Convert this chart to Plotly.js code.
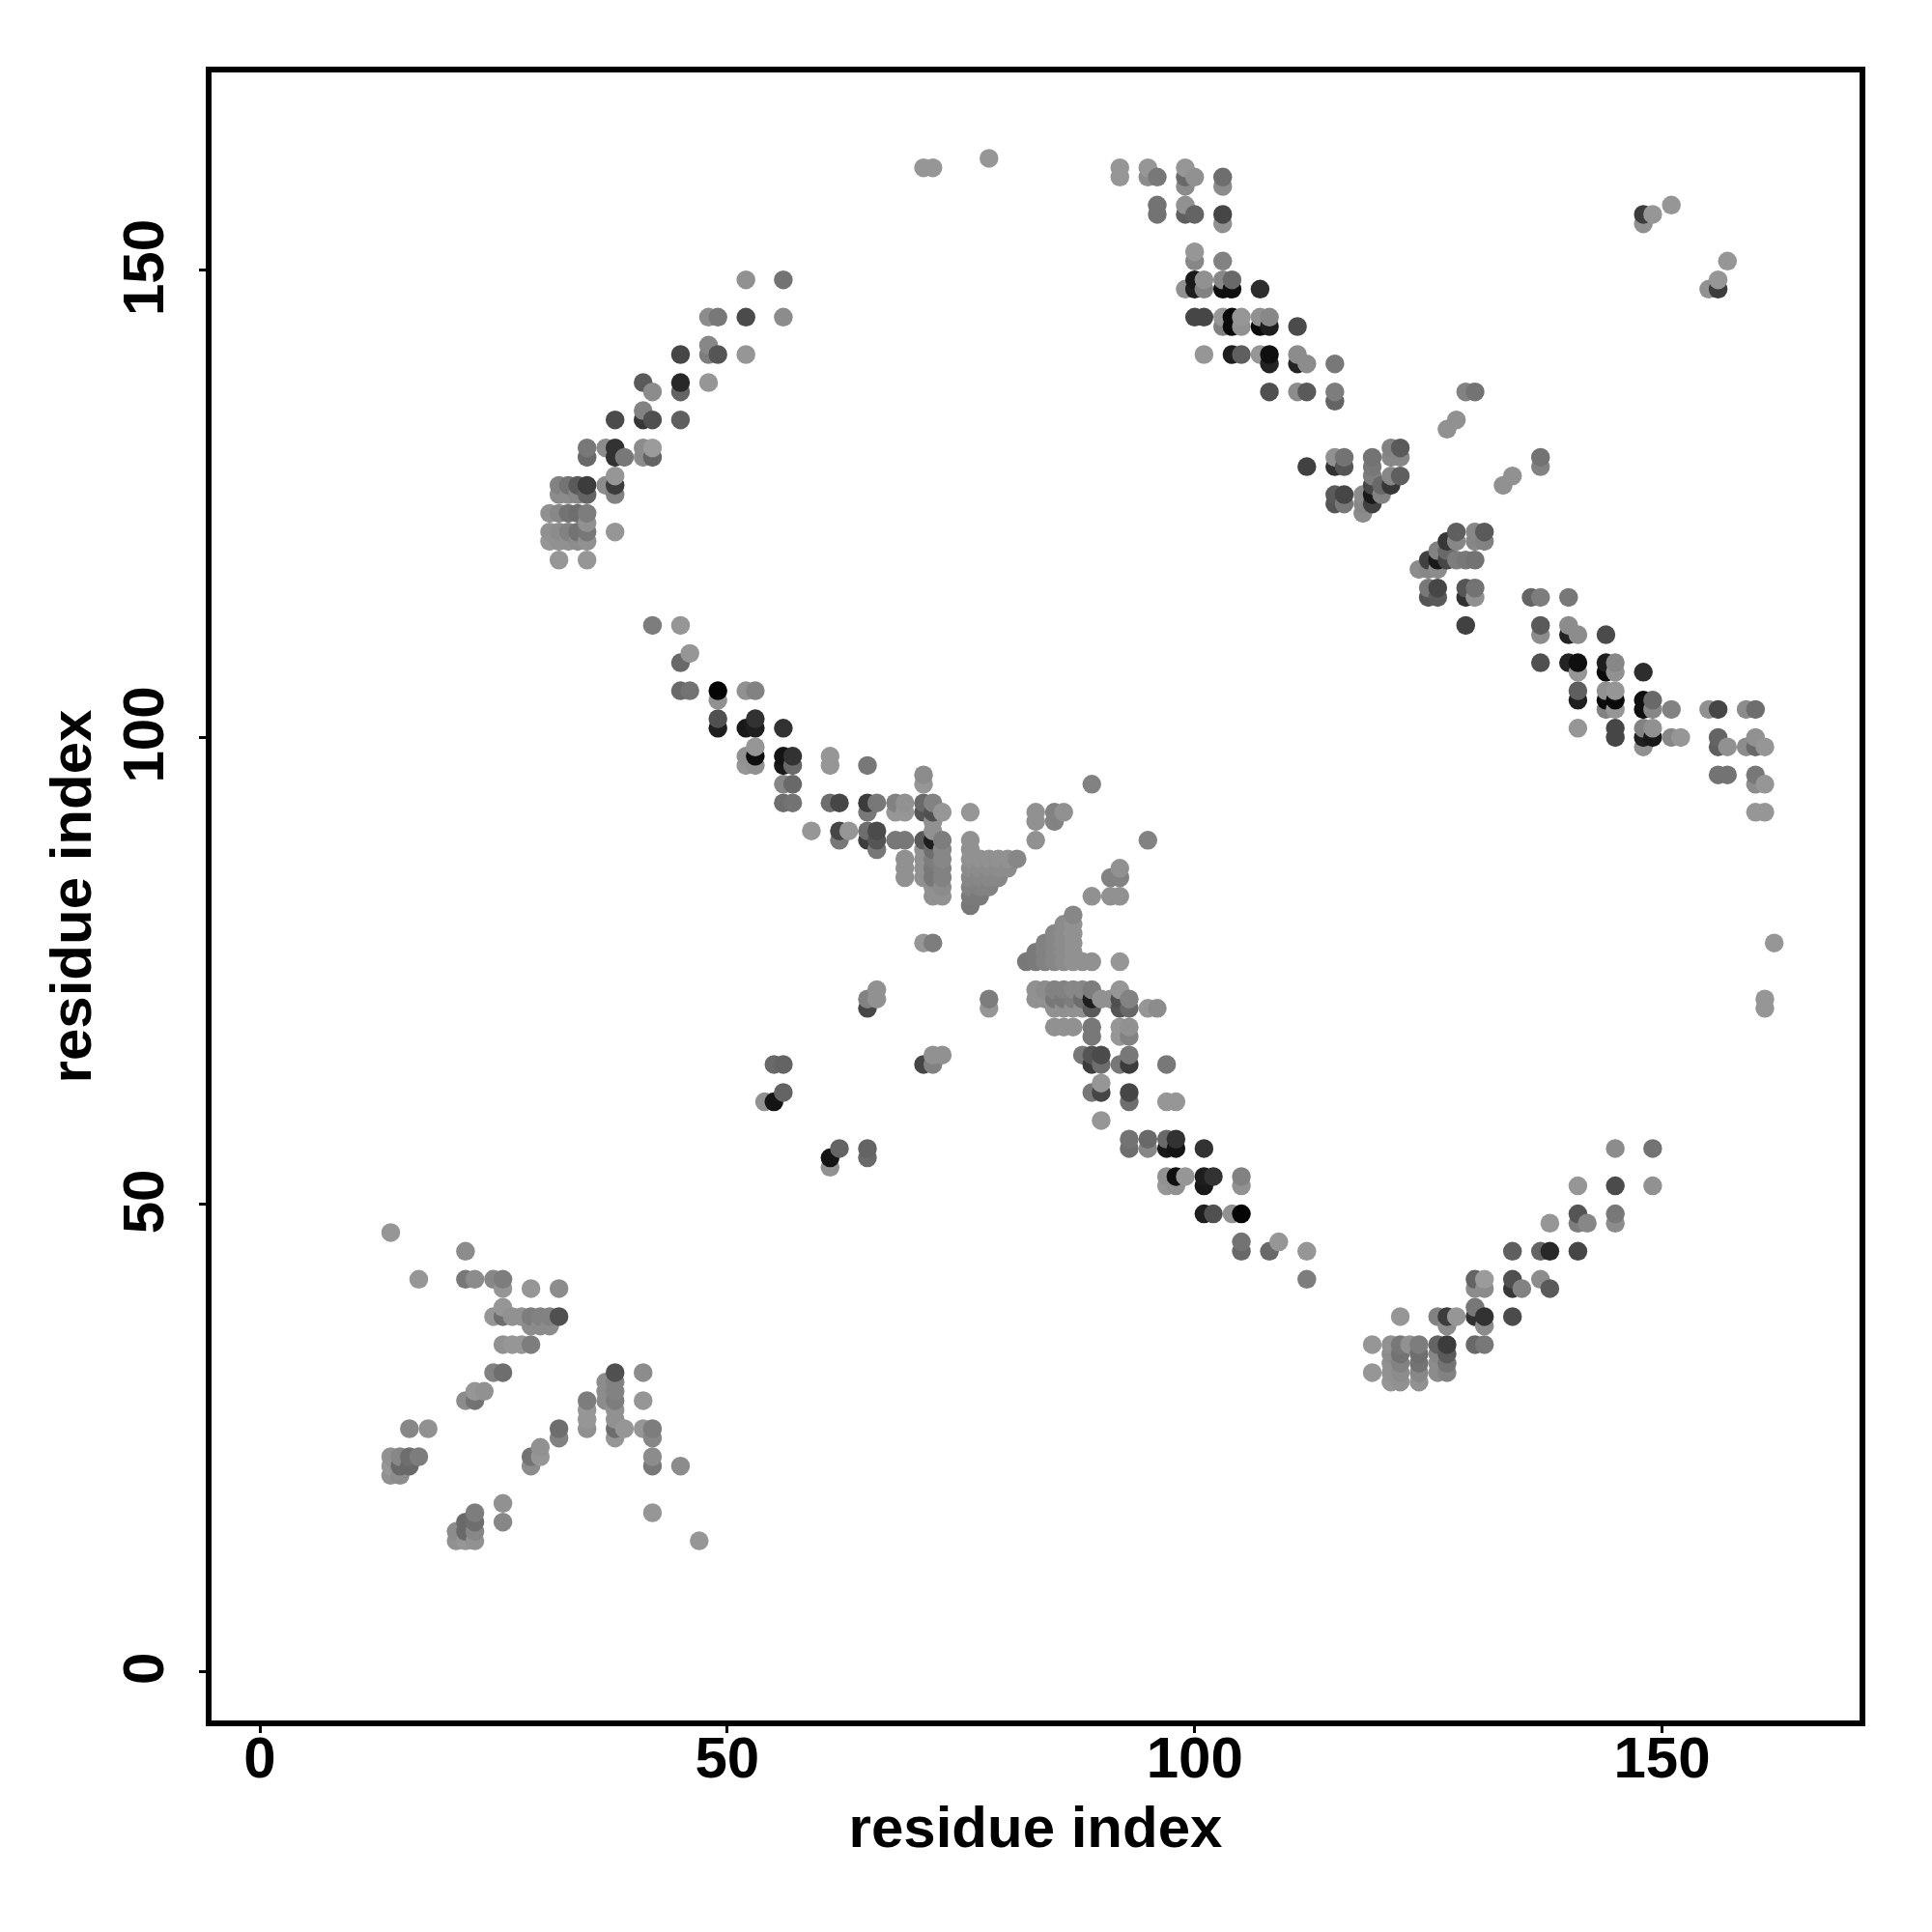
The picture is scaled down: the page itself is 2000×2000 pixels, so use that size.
<!DOCTYPE html>
<html>
<head>
<meta charset="utf-8">
<script src="https://cdn.plot.ly/plotly-3.0.1.min.js"></script>
<style>html,body{margin:0;padding:0;background:#fff}#chart{width:2000px;height:2000px}</style>
</head>
<body>
<div id="chart"></div>
<script>
// Each contact: [residue i, residue j, grey level]. The map is symmetric, so each pair is listed once (i<j).
const armLowerLeft = [
[14,47,150],[22,45,140],[17,42,150],[22,42,120],[23,42,140],[25,42,135],[26,42,125],[26,41,150],[29,41,150],[32,41,140],
[26,39,150],[25,38,150],[26,38,110],[27,38,145],[28,38,145],[29,38,125],[30,38,130],[31,38,130],[32,38,80],
[29,37,140],[30,37,140],[31,37,140],[26,35,145],[27,35,150],[28,35,150],[29,35,125],[25,32,130],[26,32,110],
[23,30,150],[24,30,145],[22,29,140],[23,29,115],[16,26,135],[18,26,145],[14,23,145],[15,23,135],[16,23,110],[17,23,125],
[14,22,150],[15,22,105],[16,22,105],[14,21,145],[15,21,140]
];
const armUpperLeft = [
[52,149,145],[56,149,115],[48,145,140],[49,145,120],[52,145,75],[56,145,140],[48,142,135],[45,141,70],[48,141,125],[49,141,85],[52,141,150],
[45,138,40],[48,138,150],[41,138,90],[42,137,140],[45,137,100],[41,135,130],[38,134,75],[41,134,55],[42,134,80],[45,134,95],
[35,131,120],[37,131,140],[38,131,50],[41,131,140],[42,131,155],[35,130,105],[38,130,50],[39,130,120],[41,130,140],[42,130,100],
[38,128,150],[32,127,130],[33,127,115],[34,127,90],[35,127,60],[37,127,140],[38,127,60],[32,126,140],[33,126,140],[34,126,135],[35,126,100],[38,126,130],
[31,124,145],[32,124,135],[33,124,115],[34,124,110],[35,124,125],[35,123,145],
[31,122,145],[32,122,140],[33,122,130],[34,122,115],[35,122,120],[38,122,150],
[31,121,150],[32,121,145],[33,121,145],[34,121,140],[35,121,145],[32,119,150],[35,119,150]
];
const armCentralLeft = [
[42,112,125],[45,112,150],[46,109,150],[45,108,105],[45,105,105],[46,105,115],[49,105,5],[49,104,145],[52,105,145],[53,105,130],
[49,102,80],[53,102,50],[49,101,30],[52,101,25],[53,101,30],[56,101,50],[53,99,150],[52,98,145],[53,98,15],[52,97,150],[53,97,145],
[56,98,20],[57,98,50],[56,97,25],[57,97,105],[61,98,150],[61,97,150],[65,97,120],[71,96,140],[71,95,150],[56,95,135],[57,95,105],
[56,93,110],[57,93,115],[61,93,110],[62,93,70],[65,93,60],[66,93,120],[68,93,130],[69,93,145],[71,93,105],[72,93,130],
[65,92,120],[68,92,150],[69,92,150],[71,92,85],[72,92,80],[73,92,150],[76,92,150],
[59,90,150],[62,90,70],[63,90,150],[65,90,110],[66,90,75],[72,90,145],[72,91,145],
[62,89,120],[65,89,60],[66,89,85],[68,89,120],[69,89,120],[71,89,90],[72,89,30],[73,89,125],[76,89,145],
[66,88,120],[71,88,145],[72,88,110],[73,88,135],[76,88,145],
[69,87,145],[71,87,145],[72,87,125],[73,87,135],[69,86,145],[71,86,145],[72,86,120],[73,86,130],[69,85,145],[71,85,145],[72,85,120],[73,85,130],
[72,84,145],[73,84,140],[72,83,145],[73,83,145]
];
const triangleCentre = [
[76,87,145],[77,87,145],[78,87,145],[79,87,145],[80,87,145],[81,87,135],
[76,86,140],[77,86,140],[78,86,140],[79,86,140],[80,86,140],
[76,85,135],[77,85,135],[78,85,135],[79,85,135],
[76,84,130],[77,84,130],[78,84,130],[76,83,122],[77,83,122],[76,82,120]
];
const contactsCentre = [
[71,78,150],[72,78,125],[65,71,70],[65,72,130],[66,72,145],[66,73,145],[54,61,145],[55,61,20],[56,62,100],[55,65,105],[56,65,100],
[83,92,145],[83,91,145],[85,92,130],[86,92,145],[85,91,130],[83,89,145],[89,95,130]
];
const armFarContacts = [[71,161,150],[72,161,150],[78,162,150],[148,156,60],[148,155,145],[149,156,150],[151,157,150]];
const armUpperRight = [
[92,161,150],[92,160,150],[95,161,150],[95,160,140],[96,160,120],[99,161,150],[99,160,105],[100,160,145],[99,159,140],[103,160,110],[103,159,140],
[96,157,115],[96,156,115],[99,157,145],[99,156,95],[100,156,100],[103,156,70],[103,155,145],[100,152,150],[100,151,135],[103,151,130],
[100,149,25],[101,149,145],[103,149,135],[104,149,105],[99,148,145],[100,148,30],[101,148,130],[103,148,15],[104,148,15],[107,148,45],
[100,145,70],[101,145,70],[103,145,150],[104,145,10],[105,145,150],[107,145,145],[108,145,135],
[103,144,130],[104,144,10],[105,144,145],[107,144,10],[108,144,30],[111,144,75],
[101,141,150],[104,141,30],[105,141,95],[107,141,150],[108,141,15],[111,141,140],
[108,140,35],[111,140,35],[112,140,140],[115,140,120],[108,137,80],[111,137,140],[112,137,90],[115,137,125],[115,136,100]
];
const armNearDiagonal = [
[112,129,65],[115,130,145],[116,130,115],[115,129,50],[116,129,85],[115,126,90],[116,126,70],[115,125,85],[116,125,120],
[119,130,115],[119,129,120],[119,128,125],[119,127,70],[119,126,25],[119,125,65],[118,126,140],[118,125,135],[118,124,140],
[120,127,105],[120,126,130],[121,131,130],[122,131,90],[121,130,135],[122,130,135],[121,128,135],[122,128,95],[121,127,55],
[127,133,145],[128,134,145],[129,137,130],[130,137,115]
];

const allPairs = [].concat(armLowerLeft, armUpperLeft, armCentralLeft, triangleCentre, contactsCentre, armFarContacts, armUpperRight, armNearDiagonal);
const points = [];
allPairs.forEach(function (p) {
  points.push([p[0], p[1], p[2]]);
  points.push([p[1], p[0], p[2]]);
});
points.sort(function (a, b) { return a[0] - b[0] || a[1] - b[1]; });

const axisTicks = [0, 50, 100, 150];
const axisName = 'residue index';
const fontFamily = '"Liberation Sans", Arial, sans-serif';

Plotly.newPlot('chart', [{
  type: 'scatter',
  mode: 'markers',
  x: points.map(function (p) { return p[0]; }),
  y: points.map(function (p) { return p[1]; }),
  marker: {
    size: 19.5,
    line: {width: 0},
    color: points.map(function (p) { return 'rgb(' + p[2] + ',' + p[2] + ',' + p[2] + ')'; })
  },
  hoverinfo: 'x+y'
}], {
  width: 2000, height: 2000,
  margin: {l: 219, r: 75, t: 75, b: 219, pad: 0},
  paper_bgcolor: '#fff', plot_bgcolor: '#fff',
  showlegend: false,
  xaxis: {
    range: [-5.167, 171.13], autorange: false, tickmode: 'array', tickvals: axisTicks, ticktext: axisTicks.map(String),
    showgrid: false, zeroline: false, showline: true, mirror: true, linecolor: '#000', linewidth: 6,
    ticks: 'outside', ticklen: 7, tickwidth: 3, tickcolor: '#000', ticklabelstandoff: -26,
    tickfont: {family: fontFamily, size: 60, color: '#000', weight: 700},
    title: {text: axisName, standoff: 20, font: {family: fontFamily, size: 60, color: '#000', weight: 700}}
  },
  yaxis: {
    range: [-5.234, 171.2], autorange: false, tickmode: 'array', tickvals: axisTicks, ticktext: axisTicks.map(function (t) { return t + '\u2009'; }),
    showgrid: false, zeroline: false, showline: true, mirror: true, linecolor: '#000', linewidth: 6,
    ticks: 'outside', ticklen: 7, tickwidth: 3, tickcolor: '#000', tickangle: -90, ticklabelstandoff: 13,
    tickfont: {family: fontFamily, size: 60, color: '#000', weight: 700},
    title: {text: axisName, standoff: 3, font: {family: fontFamily, size: 60, color: '#000', weight: 700}}
  }
}, {staticPlot: true, displayModeBar: false});
</script>
</body>
</html>
